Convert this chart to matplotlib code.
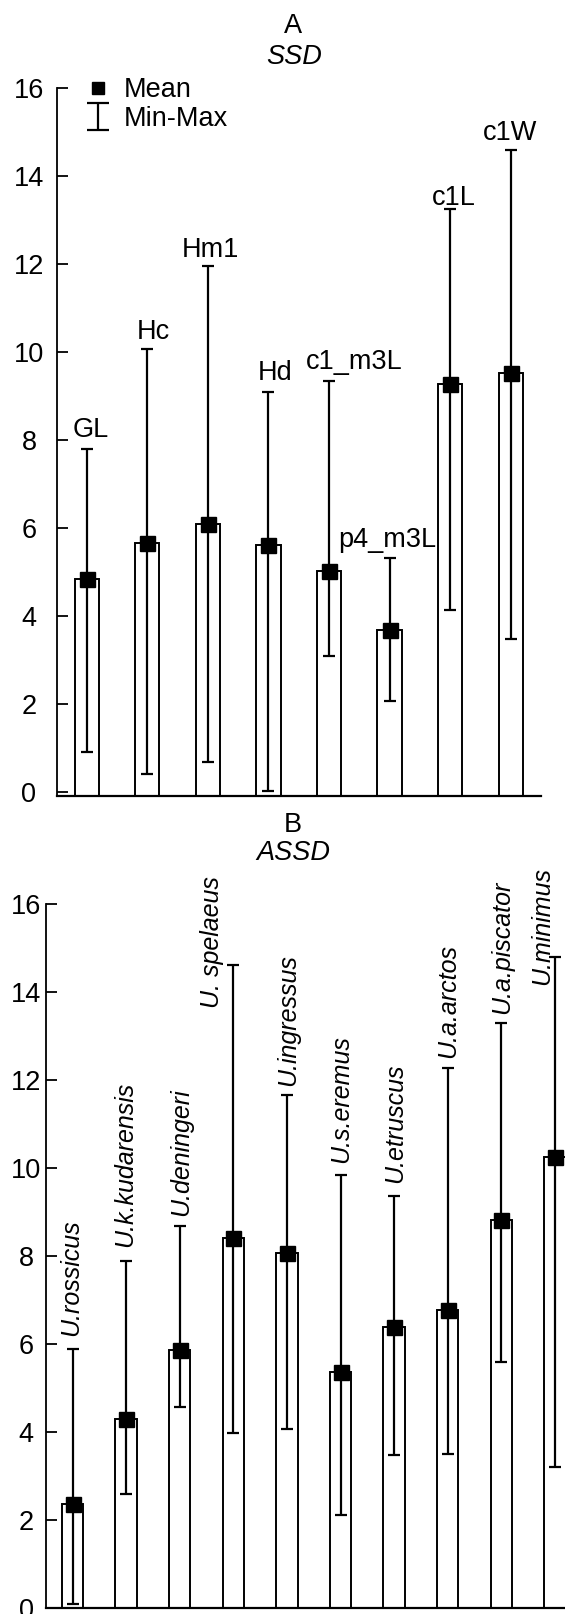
import numpy as np
import matplotlib
matplotlib.use("Agg")
import matplotlib.pyplot as plt
from matplotlib.lines import Line2D

plt.rcParams['font.family'] = ['Liberation Sans', 'DejaVu Sans']

# ---------------- data ----------------
top_cats = ['GL', 'Hc', 'Hm1', 'Hd', 'c1_m3L', 'p4_m3L', 'c1L', 'c1W']
top_mean = [4.84, 5.66, 6.08, 5.61, 5.02, 3.68, 9.27, 9.51]
top_min = [0.90, 0.39, 0.67, 0.02, 3.08, 2.05, 4.14, 3.47]
top_max = [7.79, 10.07, 11.96, 9.08, 9.33, 5.31, 13.25, 14.59]

bot_cats = ['U.rossicus', 'U.k.kudarensis', 'U.deningeri', 'U. spelaeus',
            'U.ingressus', 'U.s.eremus', 'U.etruscus', 'U.a.arctos',
            'U.a.piscator', 'U.minimus']
bot_mean = [2.36, 4.30, 5.87, 8.42, 8.06, 5.36, 6.39, 6.77, 8.82, 10.24]
bot_min = [0.09, 2.59, 4.57, 3.98, 4.07, 2.12, 3.47, 3.51, 5.60, 3.20]
bot_max = [5.89, 7.88, 8.68, 14.62, 11.66, 9.83, 9.36, 12.27, 13.29, 14.80]

yticks = [0, 2, 4, 6, 8, 10, 12, 14, 16]

# label offsets (pixels) relative to the max cap
top_lab_dx = [3.7, 6, 3, 6.5, 25, -2.5, 4, -1]
top_lab_dy = [12, 10, 9, 12, 12, 11, 4, 10]
bot_lab_dx = [-1.5, -1, 1, -21, 1, 0.7, 1, 0, 1, -13]
bot_lab_dy = [13, 14, 10, -43, 9, 12, 13, 10, 9, -28]

W, H = 565, 1614
FS = 19.5
PX = 72 / 100.0

fig = plt.figure(figsize=(W / 100, H / 100), dpi=100)
ax1 = fig.add_axes([56.5 / W, 1 - 796 / H, 484.5 / W, 708 / H])
ax2 = fig.add_axes([45.7 / W, 6 / H, 536 / W, 704 / H])


def draw(ax, cats, mean, mn, mx, y0, xmax, capsize, pad, dxs, dys, rotated):
    x = np.arange(len(cats))
    mean = np.asarray(mean)
    mn = np.asarray(mn)
    mx = np.asarray(mx)
    ax.bar(x, mean - y0, bottom=y0, width=0.4, color='white',
           edgecolor='black', linewidth=1.4, zorder=2)
    eb = ax.errorbar(x, mean, yerr=[mean - mn, mx - mean], fmt='none',
                     ecolor='black', elinewidth=1.6, capsize=capsize,
                     capthick=1.6, zorder=3, label='Min-Max')
    ax.plot(x, mean, 's', color='black', ms=10.8, ls='none', zorder=4)
    for i, c in enumerate(cats):
        if rotated:
            ax.annotate(c, xy=(x[i], mx[i]), xytext=(dxs[i] * PX, dys[i] * PX),
                        textcoords='offset points', ha='center', va='bottom',
                        rotation=90, fontsize=18, style='italic', zorder=5)
        else:
            ax.annotate(c, xy=(x[i], mx[i]), xytext=(dxs[i] * PX, dys[i] * PX),
                        textcoords='offset points', ha='center', va='baseline',
                        fontsize=FS, zorder=5)
    ax.set_xlim(-0.5, xmax)
    ax.set_ylim(y0, 16)
    ax.set_yticks(yticks)
    ax.set_xticks([])
    ax.spines['top'].set_visible(False)
    ax.spines['right'].set_visible(False)
    ax.spines['left'].set_linewidth(1.3)
    ax.spines['bottom'].set_linewidth(1.6)
    ax.tick_params(axis='y', direction='in', length=8, width=1.3,
                   labelsize=FS, pad=pad)
    plt.setp(ax.get_yticklabels(), ha='center')
    return eb


eb = draw(ax1, top_cats, top_mean, top_min, top_max, -0.1, 7.5, 4.6,
          (56.5 - 29) * PX, top_lab_dx, top_lab_dy, False)
draw(ax2, bot_cats, bot_mean, bot_min, bot_max, 0.0, 9.5, 4.1,
     (45.7 - 26) * PX, bot_lab_dx, bot_lab_dy, True)

mean_proxy = Line2D([], [], marker='s', color='black', ls='none', ms=9)
leg = ax1.legend([mean_proxy, eb], ['Mean', 'Min-Max'], loc='upper left',
                 bbox_to_anchor=(84.5 / W, 1 - 77 / H),
                 bbox_transform=fig.transFigure, frameon=False,
                 fontsize=FS, borderpad=0, borderaxespad=0,
                 handlelength=1.0, handletextpad=0.46, labelspacing=0.1)
for ln in leg.findobj(Line2D):
    if ln.get_marker() == '_':
        ln.set_markersize(15.6)

fig.text(293 / W, 1 - 26 / H, 'A', ha='center', va='center', fontsize=FS)
fig.text(294 / W, 1 - 57.5 / H, 'SSD', ha='center', va='center', fontsize=FS,
         style='italic')
fig.text(293 / W, 1 - 825 / H, 'B', ha='center', va='center', fontsize=FS)
fig.text(293 / W, 1 - 853 / H, 'ASSD', ha='center', va='center', fontsize=FS,
         style='italic')

fig.savefig('out.png', dpi=100)
